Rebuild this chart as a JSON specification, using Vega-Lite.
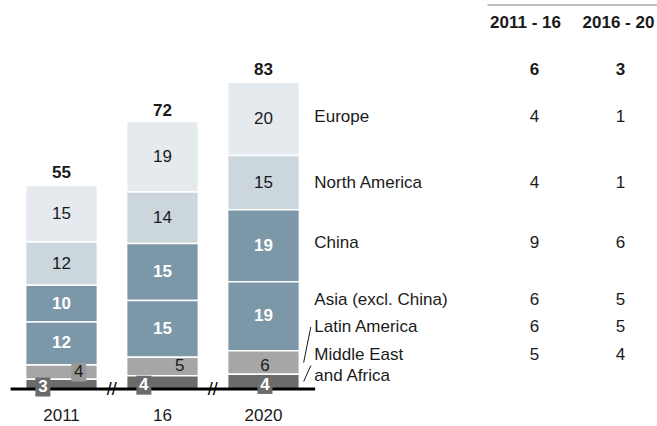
{
  "$schema": "https://vega.github.io/schema/vega-lite/v6.json",
  "width": 657,
  "height": 426,
  "padding": 0,
  "autosize": "none",
  "background": "white",
  "config": {
    "view": {"stroke": null},
    "font": "Liberation Sans",
    "text": {"font": "Liberation Sans", "fontSize": 17, "color": "#1a1a1a"},
    "axis": {"labelFont": "Liberation Sans"}
  },
  "datasets": {
    "bars": [
      {"year": "2011", "region": "Europe", "value": 15.3},
      {"year": "2011", "region": "North America", "value": 11.7},
      {"year": "2011", "region": "China", "value": 9.9},
      {"year": "2011", "region": "Asia (excl. China)", "value": 11.6},
      {"year": "2011", "region": "Latin America", "value": 3.9},
      {"year": "2011", "region": "Middle East and Africa", "value": 2.6},
      {"year": "16", "region": "Europe", "value": 19.1},
      {"year": "16", "region": "North America", "value": 13.9},
      {"year": "16", "region": "China", "value": 15.4},
      {"year": "16", "region": "Asia (excl. China)", "value": 15.3},
      {"year": "16", "region": "Latin America", "value": 5.0},
      {"year": "16", "region": "Middle East and Africa", "value": 3.6},
      {"year": "2020", "region": "Europe", "value": 19.8},
      {"year": "2020", "region": "North America", "value": 14.7},
      {"year": "2020", "region": "China", "value": 19.4},
      {"year": "2020", "region": "Asia (excl. China)", "value": 18.7},
      {"year": "2020", "region": "Latin America", "value": 6.3},
      {"year": "2020", "region": "Middle East and Africa", "value": 4.0}
    ],
    "totals": [
      {"year": "2011", "total": 55},
      {"year": "16", "total": 72},
      {"year": "2020", "total": 83}
    ],
    "growth": [
      {"region": "Total", "g1": 6, "g2": 3},
      {"region": "Europe", "g1": 4, "g2": 1},
      {"region": "North America", "g1": 4, "g2": 1},
      {"region": "China", "g1": 9, "g2": 6},
      {"region": "Asia (excl. China)", "g1": 6, "g2": 5},
      {"region": "Latin America", "g1": 6, "g2": 5},
      {"region": "Middle East and Africa", "g1": 5, "g2": 4}
    ]
  },
  "data": {"name": "bars"},
  "transform": [
    {"calculate": "indexof(['Middle East and Africa','Latin America','Asia (excl. China)','China','North America','Europe'], datum.region)", "as": "ord"},
    {"stack": "value", "groupby": ["year"], "sort": [{"field": "ord", "order": "ascending"}], "as": ["v0", "v1"]},
    {"calculate": "(datum.v0 + datum.v1) / 2", "as": "mid"},
    {"calculate": "datum.mid + (datum.region === 'Europe' ? 0.4 : datum.region === 'China' ? 0.8 : datum.region === 'Asia (excl. China)' ? 4.4 : datum.region === 'Latin America' ? 9.6 : datum.region === 'Middle East and Africa' ? 7.2 : 0)", "as": "labelY"},
    {"calculate": "datum.region === 'Middle East and Africa' ? datum.mid + 4.35 : datum.labelY", "as": "leadY"},
    {"calculate": "datum.region === 'Middle East and Africa' ? ['Middle East', 'and Africa'] : datum.region", "as": "disp"}
  ],
  "resolve": {"scale": {"x": "independent"}, "axis": {"x": "independent"}},
  "layer": [
    {
      "mark": {"type": "bar", "stroke": "white", "strokeWidth": 1.5},
      "encoding": {
        "x": {"field": "year", "type": "nominal",
              "scale": {"type": "band", "domain": ["2011", "16", "2020"], "range": [10, 315], "paddingInner": 0.29, "paddingOuter": 0.155},
              "axis": {"orient": "bottom", "offset": -37, "domain": false, "ticks": false, "tickSize": 0, "labelPadding": 18, "labelFontSize": 17, "labelColor": "#1a1a1a", "labelAngle": 0, "title": null, "grid": false}},
        "y": {"field": "v0", "type": "quantitative", "scale": {"domain": [-10, 105.1], "nice": false, "zero": false}, "axis": null},
        "y2": {"field": "v1"},
        "color": {"field": "region", "type": "nominal",
                  "scale": {"domain": ["Europe", "North America", "China", "Asia (excl. China)", "Latin America", "Middle East and Africa"],
                            "range": ["#e5eaef", "#cbd6dd", "#7b97a8", "#7b97a8", "#a6a6a6", "#6b6b6b"]},
                  "legend": null}
      }
    },
    {
      "transform": [{"filter": "datum.region === 'Europe' || datum.region === 'North America'"}],
      "mark": {"type": "text", "baseline": "middle", "fontSize": 17, "color": "#1a1a1a"},
      "encoding": {
        "x": {"field": "year", "type": "nominal", "scale": {"type": "band", "domain": ["2011", "16", "2020"], "range": [10, 315], "paddingInner": 0.29, "paddingOuter": 0.155}, "axis": null},
        "y": {"field": "mid", "type": "quantitative", "scale": {"domain": [-10, 105.1], "nice": false, "zero": false}, "axis": null},
        "text": {"field": "value", "type": "quantitative", "format": ".0f"}
      }
    },
    {
      "transform": [{"filter": "datum.region === 'China' || datum.region === 'Asia (excl. China)'"}],
      "mark": {"type": "text", "baseline": "middle", "fontSize": 17, "fontWeight": "bold", "color": "white"},
      "encoding": {
        "x": {"field": "year", "type": "nominal", "scale": {"type": "band", "domain": ["2011", "16", "2020"], "range": [10, 315], "paddingInner": 0.29, "paddingOuter": 0.155}, "axis": null},
        "y": {"field": "mid", "type": "quantitative", "scale": {"domain": [-10, 105.1], "nice": false, "zero": false}, "axis": null},
        "text": {"field": "value", "type": "quantitative", "format": ".0f"}
      }
    },
    {
      "data": {"name": "totals"},
      "transform": [{"filter": "datum.year === '2011'"}],
      "mark": {"type": "rule", "color": "black", "strokeWidth": 3},
      "encoding": {
        "x": {"datum": "2011", "type": "nominal", "bandPosition": -0.21, "scale": {"type": "band", "domain": ["2011", "16", "2020"], "range": [10, 315], "paddingInner": 0.29, "paddingOuter": 0.155}, "axis": null},
        "x2": {"datum": "2020", "bandPosition": 1.22},
        "y": {"datum": 0, "type": "quantitative", "scale": {"domain": [-10, 105.1], "nice": false, "zero": false}, "axis": null}
      }
    },
    {
      "data": {"name": "totals"},
      "transform": [{"filter": "datum.year !== '2011'"}],
      "mark": {"type": "text", "text": "//", "baseline": "middle", "fontSize": 18, "dx": -15, "dy": 1, "color": "black"},
      "encoding": {
        "x": {"field": "year", "type": "nominal", "bandPosition": 0, "scale": {"type": "band", "domain": ["2011", "16", "2020"], "range": [10, 315], "paddingInner": 0.29, "paddingOuter": 0.155}, "axis": null},
        "y": {"datum": 0, "type": "quantitative", "scale": {"domain": [-10, 105.1], "nice": false, "zero": false}, "axis": null}
      }
    },
    {
      "transform": [{"filter": "datum.region === 'Latin America' && datum.year === '2011'"}],
      "mark": {"type": "point", "shape": "M-0.79,-1H0.79V1H-0.79Z", "size": 361, "filled": true, "opacity": 1, "color": "#999999", "strokeWidth": 0},
      "encoding": {
        "x": {"field": "year", "type": "nominal", "bandPosition": 0.74, "scale": {"type": "band", "domain": ["2011", "16", "2020"], "range": [10, 315], "paddingInner": 0.29, "paddingOuter": 0.155}, "axis": null},
        "y": {"field": "mid", "type": "quantitative", "scale": {"domain": [-10, 105.1], "nice": false, "zero": false}, "axis": null}
      }
    },
    {
      "transform": [{"filter": "datum.region === 'Latin America' && datum.year !== '2020'"}],
      "mark": {"type": "text", "baseline": "middle", "fontSize": 17, "color": "#1a1a1a"},
      "encoding": {
        "x": {"field": "year", "type": "nominal", "bandPosition": 0.74, "scale": {"type": "band", "domain": ["2011", "16", "2020"], "range": [10, 315], "paddingInner": 0.29, "paddingOuter": 0.155}, "axis": null},
        "y": {"field": "mid", "type": "quantitative", "scale": {"domain": [-10, 105.1], "nice": false, "zero": false}, "axis": null},
        "text": {"field": "value", "type": "quantitative", "format": ".0f"}
      }
    },
    {
      "transform": [{"filter": "datum.region === 'Latin America' && datum.year === '2020'"}],
      "mark": {"type": "text", "baseline": "middle", "fontSize": 17, "dy": 3, "color": "#1a1a1a"},
      "encoding": {
        "x": {"field": "year", "type": "nominal", "bandPosition": 0.52, "scale": {"type": "band", "domain": ["2011", "16", "2020"], "range": [10, 315], "paddingInner": 0.29, "paddingOuter": 0.155}, "axis": null},
        "y": {"field": "mid", "type": "quantitative", "scale": {"domain": [-10, 105.1], "nice": false, "zero": false}, "axis": null},
        "text": {"field": "value", "type": "quantitative", "format": ".0f"}
      }
    },
    {
      "transform": [{"filter": "datum.region === 'Middle East and Africa' && datum.year !== '2020'"}],
      "mark": {"type": "point", "shape": "M-0.79,-0.7H0.79V1.3H-0.79Z", "size": 361, "filled": true, "opacity": 1, "color": "#6b6b6b", "strokeWidth": 0},
      "encoding": {
        "x": {"field": "year", "type": "nominal", "bandPosition": 0.24, "scale": {"type": "band", "domain": ["2011", "16", "2020"], "range": [10, 315], "paddingInner": 0.29, "paddingOuter": 0.155}, "axis": null},
        "y": {"field": "mid", "type": "quantitative", "scale": {"domain": [-10, 105.1], "nice": false, "zero": false}, "axis": null}
      }
    },
    {
      "transform": [{"filter": "datum.region === 'Middle East and Africa' && datum.year !== '2020'"}],
      "mark": {"type": "text", "baseline": "middle", "fontSize": 17, "fontWeight": "bold", "dy": 3, "color": "white"},
      "encoding": {
        "x": {"field": "year", "type": "nominal", "bandPosition": 0.24, "scale": {"type": "band", "domain": ["2011", "16", "2020"], "range": [10, 315], "paddingInner": 0.29, "paddingOuter": 0.155}, "axis": null},
        "y": {"field": "mid", "type": "quantitative", "scale": {"domain": [-10, 105.1], "nice": false, "zero": false}, "axis": null},
        "text": {"field": "value", "type": "quantitative", "format": ".0f"}
      }
    },
    {
      "transform": [{"filter": "datum.region === 'Middle East and Africa' && datum.year === '2020'"}],
      "mark": {"type": "point", "shape": "M-0.79,-0.7H0.79V1.3H-0.79Z", "size": 361, "filled": true, "opacity": 1, "color": "#6b6b6b", "strokeWidth": 0},
      "encoding": {
        "x": {"field": "year", "type": "nominal", "bandPosition": 0.52, "scale": {"type": "band", "domain": ["2011", "16", "2020"], "range": [10, 315], "paddingInner": 0.29, "paddingOuter": 0.155}, "axis": null},
        "y": {"field": "mid", "type": "quantitative", "scale": {"domain": [-10, 105.1], "nice": false, "zero": false}, "axis": null}
      }
    },
    {
      "transform": [{"filter": "datum.region === 'Middle East and Africa' && datum.year === '2020'"}],
      "mark": {"type": "text", "baseline": "middle", "fontSize": 17, "fontWeight": "bold", "dy": 3, "color": "white"},
      "encoding": {
        "x": {"field": "year", "type": "nominal", "bandPosition": 0.52, "scale": {"type": "band", "domain": ["2011", "16", "2020"], "range": [10, 315], "paddingInner": 0.29, "paddingOuter": 0.155}, "axis": null},
        "y": {"field": "mid", "type": "quantitative", "scale": {"domain": [-10, 105.1], "nice": false, "zero": false}, "axis": null},
        "text": {"field": "value", "type": "quantitative", "format": ".0f"}
      }
    },
    {
      "data": {"name": "totals"},
      "mark": {"type": "text", "baseline": "alphabetic", "fontSize": 17, "fontWeight": "bold", "dy": -7, "color": "#1a1a1a"},
      "encoding": {
        "x": {"field": "year", "type": "nominal", "scale": {"type": "band", "domain": ["2011", "16", "2020"], "range": [10, 315], "paddingInner": 0.29, "paddingOuter": 0.155}, "axis": null},
        "y": {"field": "total", "type": "quantitative", "scale": {"domain": [-10, 105.1], "nice": false, "zero": false}, "axis": null},
        "text": {"field": "total", "type": "quantitative"}
      }
    },
    {
      "transform": [{"filter": "datum.year === '2020'"}],
      "mark": {"type": "text", "align": "left", "baseline": "middle", "fontSize": 17, "dx": 15, "lineHeight": 21, "color": "#1a1a1a"},
      "encoding": {
        "x": {"field": "year", "type": "nominal", "bandPosition": 1, "scale": {"type": "band", "domain": ["2011", "16", "2020"], "range": [10, 315], "paddingInner": 0.29, "paddingOuter": 0.155}, "axis": null},
        "y": {"field": "labelY", "type": "quantitative", "scale": {"domain": [-10, 105.1], "nice": false, "zero": false}, "axis": null},
        "text": {"field": "disp"}
      }
    },
    {
      "transform": [{"filter": "datum.year === '2020' && (datum.region === 'Latin America' || datum.region === 'Middle East and Africa')"}],
      "mark": {"type": "rule", "color": "#1a1a1a", "strokeWidth": 1},
      "encoding": {
        "x": {"datum": "2020", "type": "nominal", "bandPosition": 1.06, "scale": {"type": "band", "domain": ["2011", "16", "2020"], "range": [10, 315], "paddingInner": 0.29, "paddingOuter": 0.155}, "axis": null},
        "x2": {"datum": "2020", "bandPosition": 1.16},
        "y": {"field": "mid", "type": "quantitative", "scale": {"domain": [-10, 105.1], "nice": false, "zero": false}, "axis": null},
        "y2": {"field": "leadY"}
      }
    },
    {
      "transform": [
        {"filter": "datum.year === '2020'"},
        {"lookup": "region", "from": {"data": {"name": "growth"}, "key": "region", "fields": ["g1", "g2"]}},
        {"fold": ["g1", "g2"], "as": ["gk", "cagr"]},
        {"calculate": "datum.gk === 'g1' ? '2011 - 16' : '2016 - 20'", "as": "period"}
      ],
      "mark": {"type": "text", "baseline": "middle", "fontSize": 17, "color": "#1a1a1a", "dx": {"expr": "datum.gk === 'g1' ? 9 : 2"}},
      "encoding": {
        "x": {"field": "period", "type": "nominal",
              "scale": {"type": "band", "domain": ["2011 - 16", "2016 - 20"], "range": [487, 657], "paddingInner": 0.17, "paddingOuter": 0},
              "axis": {"orient": "top", "offset": -4.5, "domain": true, "domainColor": "#aaaaaa", "domainWidth": 1.5, "ticks": false, "tickSize": 0, "labelPadding": -27, "labelFontSize": 17, "labelFontWeight": "bold", "labelColor": "#1a1a1a", "labelAngle": 0, "title": null, "grid": false}},
        "y": {"field": "labelY", "type": "quantitative", "scale": {"domain": [-10, 105.1], "nice": false, "zero": false}, "axis": null},
        "text": {"field": "cagr", "type": "quantitative"}
      }
    },
    {
      "data": {"name": "growth"},
      "transform": [
        {"filter": "datum.region === 'Total'"},
        {"calculate": "'2020'", "as": "year"},
        {"lookup": "year", "from": {"data": {"name": "totals"}, "key": "year", "fields": ["total"]}},
        {"fold": ["g1", "g2"], "as": ["gk", "cagr"]},
        {"calculate": "datum.gk === 'g1' ? '2011 - 16' : '2016 - 20'", "as": "period"}
      ],
      "mark": {"type": "text", "baseline": "alphabetic", "fontSize": 17, "fontWeight": "bold", "dy": -7, "color": "#1a1a1a", "dx": {"expr": "datum.gk === 'g1' ? 9 : 2"}},
      "encoding": {
        "x": {"field": "period", "type": "nominal", "scale": {"type": "band", "domain": ["2011 - 16", "2016 - 20"], "range": [487, 657], "paddingInner": 0.17, "paddingOuter": 0}, "axis": null},
        "y": {"field": "total", "type": "quantitative", "scale": {"domain": [-10, 105.1], "nice": false, "zero": false}, "axis": null},
        "text": {"field": "cagr", "type": "quantitative"}
      }
    }
  ]
}
